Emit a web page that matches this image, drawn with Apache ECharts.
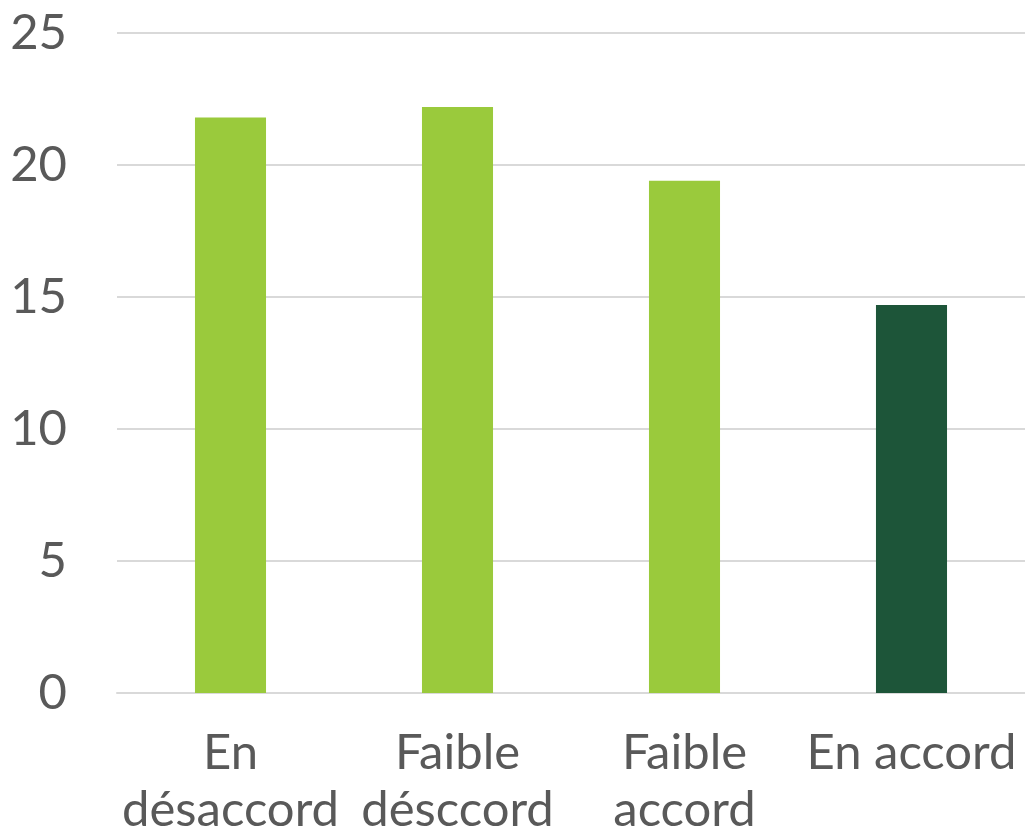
<!DOCTYPE html>
<html><head><meta charset="utf-8">
<script src="https://cdn.jsdelivr.net/npm/echarts@6/dist/echarts.min.js"></script>
<style>html,body{margin:0;padding:0;background:#fff;overflow:hidden}#c{width:1025px;height:839px}</style>
</head><body><div id="c"></div>
<script>
const categories = ["En\ndésaccord", "Faible\ndésccord", "Faible\naccord", "En accord"];
const values = [21.8, 22.2, 19.4, 14.7];
const barColors = ["#9ACA3C", "#9ACA3C", "#9ACA3C", "#1D5539"];
const yTicks = [0, 5, 10, 15, 20, 25];

const chart = echarts.init(document.getElementById('c'), null, {renderer: 'canvas', width: 1025, height: 839});
chart.setOption({
  animation: false,
  grid: {left: 117, right: -2, top: 33, height: 667, containLabel: false},
  xAxis: {
    type: 'category', data: categories,
    axisLine: {lineStyle: {color: '#d9d9d9', width: 2}},
    axisTick: {show: false},
    axisLabel: {color: '#595959', fontFamily: 'Lato', fontSize: 49, lineHeight: 57, margin: 32, interval: 0}
  },
  yAxis: {
    type: 'value', min: 0, max: 25, interval: 5,
    axisLine: {show: false}, axisTick: {show: false},
    splitLine: {lineStyle: {color: '#d9d9d9', width: 2}},
    axisLabel: {color: '#595959', fontFamily: 'Lato', fontSize: 49, margin: 50,
      formatter: v => yTicks.includes(v) ? String(v) : ''}
  },
  series: [{
    type: 'bar', barWidth: '31.3%',
    data: values.map((v, i) => ({value: v, itemStyle: {color: barColors[i]}}))
  }]
});
</script></body></html>
